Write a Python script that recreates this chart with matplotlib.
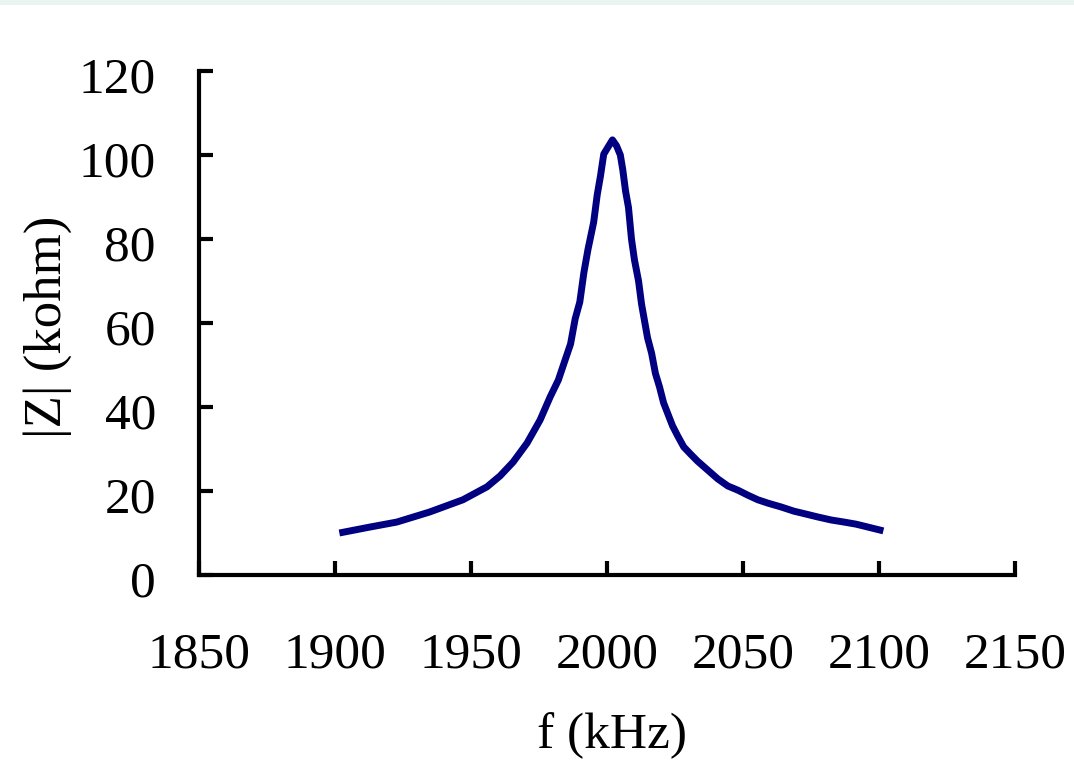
import matplotlib
matplotlib.use("Agg")
import matplotlib.pyplot as plt
import matplotlib.transforms as mtransforms
from matplotlib.patches import Rectangle

# Impedance magnitude around the resonance
freq_khz = [1901.6, 1912.7, 1922.7, 1934.8, 1947.0, 1955.9, 1960.7, 1965.5,
            1970.6, 1975.4, 1979.1, 1982.1, 1984.5, 1986.6, 1988.3, 1990.0,
            1991.5, 1993.0, 1995.1, 1996.4, 1997.6, 1998.8, 2000.2, 2002.0,
            2003.5, 2004.9, 2005.8, 2006.8, 2007.9, 2009.0, 2010.1, 2011.6,
            2012.7, 2013.8, 2014.9, 2016.4, 2017.8, 2019.3, 2020.8, 2022.3,
            2024.1, 2026.0, 2028.2, 2030.7, 2033.3, 2037.0, 2040.7, 2044.4,
            2048.1, 2051.8, 2055.5, 2059.2, 2064.0, 2068.7, 2073.2, 2077.6,
            2082.4, 2087.2, 2091.6, 2096.0, 2101.6]
z_kohm = [10.0, 11.4, 12.6, 15.0, 17.9, 21.0, 23.6, 26.9,
          31.4, 36.9, 42.4, 46.4, 51.0, 55.0, 61.0, 65.0,
          72.0, 77.5, 84.0, 90.5, 95.0, 100.2, 101.7, 103.6,
          102.2, 100.0, 96.5, 91.5, 87.5, 80.0, 75.0, 70.0,
          64.5, 60.5, 56.5, 52.8, 48.0, 44.8, 41.0, 38.5,
          35.5, 33.1, 30.5, 28.8, 27.1, 25.0, 22.9, 21.2,
          20.2, 19.0, 17.9, 17.1, 16.2, 15.2, 14.5, 13.8,
          13.1, 12.6, 12.1, 11.4, 10.5]

x_ticks = [1850, 1900, 1950, 2000, 2050, 2100, 2150]
y_ticks = [0, 20, 40, 60, 80, 100, 120]

plt.rcParams["font.family"] = ["Liberation Serif", "DejaVu Serif"]

W, H = 1074, 760
fig = plt.figure(figsize=(W / 100, H / 100), dpi=100)
fig.patch.set_facecolor("white")

# thin tinted band along the top edge
fig.patches.append(Rectangle((0, 1 - 5 / H), 1, 5 / H, transform=fig.transFigure,
                             facecolor="#eaf5f1", edgecolor="none", zorder=0))

ax = fig.add_axes([199 / W, (H - 575) / H, (1015 - 199) / W, (575 - 71) / H])
ax.plot(freq_khz, z_kohm, color="#000080", linewidth=5.0,
        solid_joinstyle="round", solid_capstyle="butt", clip_on=False)

ax.set_xlim(1850, 2150)
ax.set_ylim(0, 120)
ax.set_xticks(x_ticks)
ax.set_yticks(y_ticks)
ax.set_xticklabels([str(v) for v in x_ticks])
ax.set_yticklabels([str(v) for v in y_ticks])

for side in ("top", "right"):
    ax.spines[side].set_visible(False)
for side in ("left", "bottom"):
    ax.spines[side].set_linewidth(3.0)
    ax.spines[side].set_color("black")
    ax.spines[side].set_capstyle("projecting")

ax.tick_params(axis="both", direction="in", length=10, width=3, colors="black",
               labelsize=37)
ax.tick_params(axis="x", pad=41)
ax.tick_params(axis="y", pad=31)

# nudge y tick labels slightly downward
offset = mtransforms.ScaledTranslation(0, -4 / 100, fig.dpi_scale_trans)
for lbl in ax.get_yticklabels():
    lbl.set_transform(lbl.get_transform() + offset)

fig.text(612 / W, 12 / H, "f (kHz)", ha="center", va="baseline", fontsize=37)
fig.text(48 / W, 1 - 327 / H, "|Z| (kohm)", ha="center", va="center",
         rotation=90, fontsize=38)

fig.savefig("out.png", dpi=100, facecolor="white")
